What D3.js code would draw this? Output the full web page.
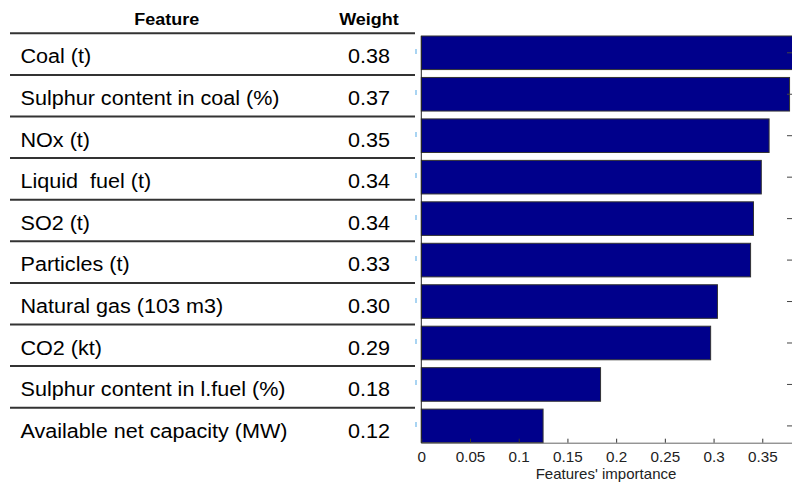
<!DOCTYPE html>
<html>
<head>
<meta charset="utf-8">
<script src="https://cdn.jsdelivr.net/npm/d3@7"></script>
<style>
  html, body { margin: 0; padding: 0; background: #fff; }
  svg { display: block; font-family: "Liberation Sans", Arial, sans-serif; }
  text { white-space: pre; }
</style>
</head>
<body>
<svg id="chart" width="792" height="482"></svg>
<script>
// ---- data ----
const features = [
  "Coal (t)",
  "Sulphur content in coal (%)",
  "NOx (t)",
  "Liquid  fuel (t)",
  "SO2 (t)",
  "Particles (t)",
  "Natural gas (103 m3)",
  "CO2 (kt)",
  "Sulphur content in l.fuel (%)",
  "Available net capacity (MW)"
];
const weightLabels = ["0.38", "0.37", "0.35", "0.34", "0.34", "0.33", "0.30", "0.29", "0.18", "0.12"];
const importance = [0.385, 0.378, 0.357, 0.349, 0.341, 0.338, 0.304, 0.297, 0.184, 0.125];
const xTicks = [0, 0.05, 0.1, 0.15, 0.2, 0.25, 0.3, 0.35];
const headers = ["Feature", "Weight"];
const xTitle = "Features' importance";

// ---- layout ----
const svg = d3.select("#chart");
const SX = 1.09; // horizontal stretch of the source text

const plot = { left: 421.3, right: 791.5, top: 36, bottom: 442.7 };
const x = d3.scaleLinear().domain([0, 0.38]).range([plot.left, plot.right]);
const y = d3.scaleBand().domain(features).range([plot.top, plot.bottom])
  .paddingInner(0.19).paddingOuter(0);

// table rows
const rowY = d3.scaleLinear().domain([0, 1]).range([33.3, 74.9]);

function stext(g, xx, yy, txt, opts) {
  return g.append("text")
    .attr("transform", `translate(${xx},${yy}) scale(${SX},1)`)
    .attr("text-anchor", opts.anchor || "start")
    .attr("font-size", opts.size)
    .attr("font-weight", opts.weight || "normal")
    .attr("fill", opts.fill || "#000")
    .attr("xml:space", "preserve")
    .text(txt);
}

const table = svg.append("g");
// header
stext(table, 166.7, 25, headers[0], { anchor: "middle", size: 16.5, weight: "bold" });
stext(table, 369, 25, headers[1], { anchor: "middle", size: 16.5, weight: "bold" });

// horizontal rules
const ruleIdx = d3.range(0, features.length);
table.selectAll("line.rule").data(ruleIdx).join("line")
  .attr("class", "rule")
  .attr("x1", 10).attr("x2", 415)
  .attr("y1", d => rowY(d)).attr("y2", d => rowY(d))
  .attr("stroke", "#333").attr("stroke-width", 2);

features.forEach((f, i) => {
  const by = rowY(i) + 30;
  stext(table, 20.5, by, f, { size: 19.8 });
  stext(table, 390, by, weightLabels[i], { anchor: "end", size: 19.8 });
});

// light blue marks next to the table
svg.append("g").selectAll("rect").data(features).join("rect")
  .attr("x", 415).attr("width", 2)
  .attr("y", d => Math.round(y(d) + y.bandwidth() / 2 - 4)).attr("height", 5)
  .attr("fill", "#a9d4f2");

// ---- plot ----
svg.append("clipPath").attr("id", "clip")
  .append("rect").attr("x", plot.left - 1).attr("y", 0)
  .attr("width", plot.right - plot.left + 1.5).attr("height", 482);

const bars = svg.append("g").attr("clip-path", "url(#clip)");
bars.selectAll("rect").data(features).join("rect")
  .attr("x", x(0))
  .attr("y", d => y(d))
  .attr("width", (d, i) => x(importance[i]) - x(0))
  .attr("height", y.bandwidth())
  .attr("fill", "#00008b")
  .attr("stroke", "#333")
  .attr("stroke-width", 1);

// left axis line
svg.append("line")
  .attr("x1", plot.left).attr("x2", plot.left)
  .attr("y1", plot.top).attr("y2", plot.bottom)
  .attr("stroke", "#222").attr("stroke-width", 1);

// right ticks (inward)
svg.append("g").selectAll("line").data(features).join("line")
  .attr("x1", 787).attr("x2", 792)
  .attr("y1", d => y(d) + y.bandwidth() / 2)
  .attr("y2", d => y(d) + y.bandwidth() / 2)
  .attr("stroke", "#444").attr("stroke-width", 1);

// bottom axis
const xAxis = d3.axisBottom(x).tickValues(xTicks).tickSize(-4).tickPadding(9)
  .tickFormat(d => d3.format("")(+d.toFixed(2)));
const gx = svg.append("g").attr("transform", `translate(0,${plot.bottom})`).call(xAxis);
gx.select(".domain").attr("stroke", "#666").attr("d", `M${plot.left},0.5H792`);
gx.selectAll(".tick line").attr("stroke", "#333");
gx.selectAll(".tick text")
  .attr("font-family", "Liberation Sans, Arial, sans-serif")
  .attr("font-size", 14).attr("fill", "#222")
  .attr("transform", `scale(${SX},1)`);

// x title
stext(svg, 606, 479, xTitle, { anchor: "middle", size: 13.8, fill: "#222" });
</script>
</body>
</html>
